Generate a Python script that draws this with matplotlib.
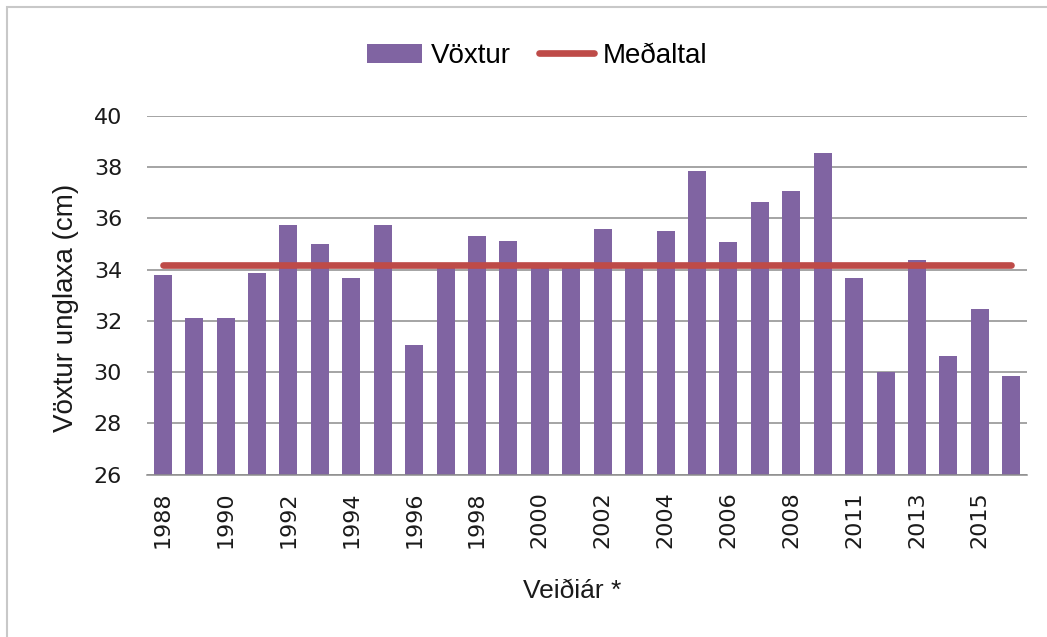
import matplotlib
matplotlib.use("Agg")
import matplotlib.pyplot as plt
from matplotlib.patches import Rectangle
import numpy as np

# ---- data ----
years = ["1988", "1989", "1990", "1991", "1992", "1993", "1994", "1995", "1996", "1997",
         "1998", "1999", "2000", "2001", "2002", "2003", "2004", "2005", "2006", "2007",
         "2008", "2010", "2011", "2012", "2013", "2014", "2015", "2016"]
voxtur = [33.78, 32.10, 32.10, 33.87, 35.76, 34.99, 33.68, 35.76, 31.07, 34.10,
          35.33, 35.14, 34.10, 34.10, 35.59, 34.10, 35.50, 37.84, 35.07, 36.63,
          37.07, 38.57, 33.68, 30.00, 34.37, 30.63, 32.45, 29.86]
medaltal = 34.17
yticks = [26, 28, 30, 32, 34, 36, 38, 40]

# ---- styling ----
BAR = "#8064A2"
RED = "#BE4B48"
GRID = "#8C8C8C"
TICK_FONT = "DejaVu Sans"
LBL_FONT = "Liberation Sans"

fig = plt.figure(figsize=(10.47, 6.37), dpi=100)
ax = fig.add_axes([147 / 1047, 1 - 474.7 / 637, 880 / 1047, (474.7 - 116) / 637])

x = np.arange(len(years))
bars = ax.bar(x, voxtur, width=0.57, color=BAR, zorder=2, label="Vöxtur")
line, = ax.plot(x[[0, -1]], [medaltal, medaltal], color=RED, lw=4.8,
                solid_capstyle="round", zorder=3, label="Meðaltal")

ax.set_xlim(-0.5, len(years) - 0.5)
ax.set_ylim(26, 40)
ax.set_yticks(yticks)
ax.set_yticklabels([str(t) for t in yticks], fontsize=16, family=TICK_FONT, color="#1a1a1a")
ax.set_xticks(x)
ax.set_xticklabels([y if i % 2 == 0 else "" for i, y in enumerate(years)],
                   rotation=90, fontsize=16, family=TICK_FONT, color="#1a1a1a")
ax.tick_params(axis="y", length=0, pad=18)
ax.tick_params(axis="x", length=0, pad=12)

ax.yaxis.grid(True, color=GRID, lw=1.1, zorder=0)
ax.set_axisbelow(True)
for s in ["top", "right", "left"]:
    ax.spines[s].set_visible(False)
ax.spines["bottom"].set_color(GRID)
ax.spines["bottom"].set_linewidth(1.1)

ax.set_ylabel("Vöxtur unglaxa (cm)", fontsize=20, family=LBL_FONT, color="#1a1a1a")
ax.yaxis.set_label_coords(-0.077, 0.464)
ax.set_xlabel("Veiðiár *", fontsize=19, family=LBL_FONT, color="#1a1a1a")
ax.xaxis.set_label_coords(0.483, -0.29)

fig.legend(handles=[bars, line], labels=["Vöxtur", "Meðaltal"], loc="center",
           bbox_to_anchor=(537 / 1047, 1 - 56 / 637), ncol=2, frameon=False,
           prop={"family": LBL_FONT, "size": 20}, handlelength=2.0,
           handletextpad=0.3, columnspacing=1.0)

fig.patches.append(Rectangle((7 / 1047, -0.05), 1.1, 1 - 7 / 637 + 0.05,
                             transform=fig.transFigure, fill=False,
                             edgecolor="#C8C8C8", lw=1.5))

fig.savefig("out.png", dpi=100, facecolor="white")
